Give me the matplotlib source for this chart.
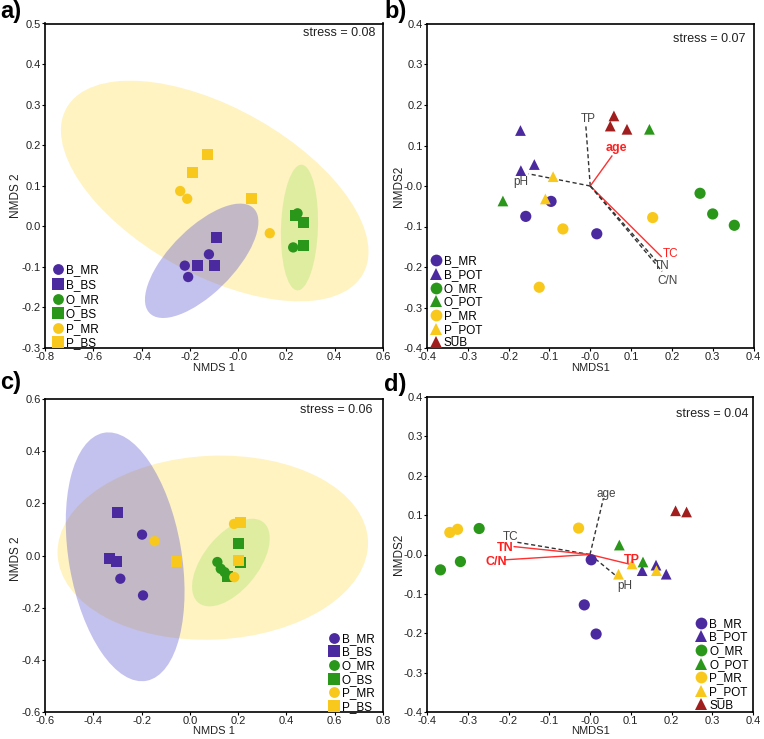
import matplotlib
matplotlib.use("Agg")
import matplotlib.pyplot as plt
import numpy as np
from matplotlib.patches import Ellipse
from matplotlib.lines import Line2D

plt.rcParams['font.family'] = ['Liberation Sans', 'DejaVu Sans']
plt.rcParams['axes.unicode_minus'] = False

# ---- colours / markers per group ----
PURPLE = '#4b2aa0'
GREEN = '#2a961a'
YELLOW = '#f8c81c'
DARKRED = '#a01e1e'
group_color = {'B': PURPLE, 'O': GREEN, 'P': YELLOW, 'S': DARKRED}
group_marker = {'MR': 'o', 'BS': 's', 'POT': '^', 'SUB': '^'}

# ---- panel a: NMDS of groups (x list, y list) ----
a_groups = ['B_MR', 'B_BS', 'O_MR', 'O_BS', 'P_MR', 'P_BS']
a_pts = {
    'B_MR': ([-0.221, -0.207, -0.121], [-0.097, -0.125, -0.069]),
    'B_BS': ([-0.170, -0.097, -0.090], [-0.097, -0.097, -0.027]),
    'O_MR': ([0.246, 0.228], [0.032, -0.052]),
    'O_BS': ([0.239, 0.272, 0.269], [0.026, 0.009, -0.047]),
    'P_MR': ([-0.240, -0.211, 0.131], [0.087, 0.068, -0.017]),
    'P_BS': ([-0.127, -0.188, 0.055], [0.176, 0.133, 0.068]),
}
# ellipses: centre x, centre y, sd x, sd y, correlation
a_ell = {
    'P': (-0.097, 0.087, 0.637, 0.272, -0.55),
    'B': (-0.151, -0.085, 0.235, 0.141, 0.68),
    'O': (0.254, -0.003, 0.077, 0.155, 0.10),
}

# ---- panel b ----
b_groups = ['B_MR', 'B_POT', 'O_MR', 'O_POT', 'P_MR', 'P_POT', 'SUB']
b_pts = {
    'B_MR': ([-0.158, -0.096, 0.016], [-0.075, -0.038, -0.118]),
    'B_POT': ([-0.171, -0.170, -0.137], [0.137, 0.038, 0.053]),
    'O_MR': ([0.269, 0.300, 0.353], [-0.018, -0.069, -0.097]),
    'O_POT': ([-0.214, 0.145], [-0.037, 0.140]),
    'P_MR': ([-0.067, 0.153, -0.125], [-0.106, -0.078, -0.250]),
    'P_POT': ([-0.091, -0.110], [0.023, -0.032]),
    'SUB': ([0.058, 0.049, 0.090], [0.173, 0.148, 0.140]),
}
b_vec_names = ['TP', 'age', 'pH', 'TC', 'TN', 'C/N']
b_vec_x = [-0.011, 0.053, -0.151, 0.174, 0.163, 0.176]
b_vec_y = [0.151, 0.074, 0.030, -0.174, -0.186, -0.211]
b_lab_x = [-0.004, 0.064, -0.171, 0.196, 0.176, 0.190]
b_lab_y = [0.165, 0.093, 0.011, -0.168, -0.197, -0.234]
b_signif = [False, True, False, True, False, False]
b_bold = [False, True, False, False, False, False]

# ---- panel c ----
c_groups = a_groups
c_pts = {
    'B_MR': ([-0.198, -0.288, -0.194], [0.080, -0.089, -0.153]),
    'B_BS': ([-0.301, -0.333, -0.304], [0.165, -0.013, -0.024]),
    'O_MR': ([0.114, 0.128, 0.144], [-0.025, -0.051, -0.064]),
    'O_BS': ([0.200, 0.211, 0.155], [0.046, -0.028, -0.079]),
    'P_MR': ([-0.146, 0.183, 0.184], [0.055, 0.121, -0.083]),
    'P_BS': ([-0.057, 0.211, 0.201], [-0.024, 0.127, -0.018]),
}
c_ell = {
    'P': (0.095, 0.030, 0.643, 0.353, 0.05),
    'B': (-0.268, -0.005, 0.246, 0.477, -0.28),
    'O': (0.170, -0.027, 0.161, 0.168, 0.55),
}

# ---- panel d ----
d_groups = b_groups
d_pts = {
    'B_MR': ([0.003, -0.014, 0.015], [-0.0135, -0.128, -0.202]),
    'B_POT': ([0.128, 0.162, 0.187], [-0.041, -0.027, -0.050]),
    'O_MR': ([-0.272, -0.318, -0.367], [0.066, -0.018, -0.039]),
    'O_POT': ([0.072, 0.130], [0.024, -0.019]),
    'P_MR': ([-0.344, -0.325, -0.028], [0.056, 0.064, 0.067]),
    'P_POT': ([0.070, 0.103, 0.163], [-0.050, -0.024, -0.041]),
    'SUB': ([0.210, 0.237], [0.111, 0.108]),
}
d_vec_names = ['age', 'TC', 'TN', 'C/N', 'TP', 'pH']
d_vec_x = [0.033, -0.184, -0.186, -0.209, 0.095, 0.072]
d_vec_y = [0.143, 0.032, 0.020, -0.0135, -0.024, -0.061]
d_lab_x = [0.039, -0.194, -0.209, -0.231, 0.103, 0.085]
d_lab_y = [0.154, 0.044, 0.016, -0.018, -0.014, -0.079]
d_signif = [False, False, True, True, True, False]
d_bold = d_signif

ell_style = {
    'P': dict(fc='#fff3c2', alpha=1.0),
    'B': dict(fc=(84/255, 78/255, 206/255), alpha=0.35),
    'O': dict(fc=(166/255, 228/255, 100/255), alpha=0.35),
}


def style_of(name):
    if name == 'SUB':
        return group_color['S'], group_marker['SUB']
    g, t = name.split('_')
    return group_color[g], group_marker[t]


def add_ellipse(ax, params, fc, alpha):
    cx, cy, sx, sy, r = params
    cov = np.array([[sx * sx, r * sx * sy], [r * sx * sy, sy * sy]])
    vals, vecs = np.linalg.eigh(cov)
    angle = np.degrees(np.arctan2(vecs[1, 1], vecs[0, 1]))
    ax.add_patch(Ellipse((cx, cy), 2 * np.sqrt(vals[1]), 2 * np.sqrt(vals[0]),
                         angle=angle, fc=fc, alpha=alpha, ec='none', zorder=1))


def setup_axes(ax, xlim, ylim, xstep, ystep, xlabel, ylabel, yl_y):
    ax.set_xlim(*xlim)
    ax.set_ylim(*ylim)
    ax.set_xticks(np.round(np.arange(xlim[0], xlim[1] + 1e-9, xstep), 2))
    ax.set_yticks(np.round(np.arange(ylim[0], ylim[1] + 1e-9, ystep), 2))
    ax.xaxis.set_major_formatter(plt.FormatStrFormatter('%.1f'))
    ax.yaxis.set_major_formatter(plt.FormatStrFormatter('%.1f'))
    ax.tick_params(direction='out', length=2.5, width=0.8, labelsize=8,
                   labelcolor='#222222', pad=0.5)
    for s in ax.spines.values():
        s.set_linewidth(1.2)
    ax.set_xlabel(xlabel, fontsize=8, color='#222222', labelpad=0)
    ax.set_ylabel(ylabel, fontsize=8.5, color='#222222')
    ax.yaxis.set_label_coords(-0.068, yl_y)
    ax.xaxis.set_label_coords(0.5, -0.046)


def scatter_groups(ax, groups, pts, s_round, s_square, s_tri):
    handles = []
    for name in groups:
        col, mk = style_of(name)
        s = {'o': s_round, 's': s_square, '^': s_tri}[mk]
        xs, ys = pts[name]
        ax.scatter(xs, ys, s=s, c=col, marker=mk, edgecolors='none', zorder=3)
        handles.append(Line2D([], [], ls='none', marker=mk, color=col,
                              markersize=np.sqrt(s) * 1.05, markeredgewidth=0, label=name))
    return handles


def draw_vectors(ax, names, vx, vy, lx, ly, signif, bold):
    for n, x, y, tx, ty, sg, bd in zip(names, vx, vy, lx, ly, signif, bold):
        if sg:
            ax.plot([0, x], [0, y], color='#ff3030', lw=1.0, zorder=2)
        else:
            ax.plot([0, x], [0, y], color='#333333', lw=1.0, ls=(0, (3, 2)), zorder=2)
        ax.text(tx, ty, n, ha='center', va='center', fontsize=9 if bd else 8.5,
                color='#ff2020' if sg else '#444444',
                fontweight='bold' if bd else 'normal', zorder=4)


def add_legend(ax, handles, loc, anchor, spacing):
    ax.legend(handles=handles, loc=loc, bbox_to_anchor=anchor, frameon=False,
              fontsize=8.5, handletextpad=-0.1, labelspacing=spacing, borderpad=0.2,
              handlelength=1.5)


fig = plt.figure(figsize=(7.64, 7.39), dpi=100)
W, H = 764, 739


def axes_px(left, top, right, bottom):
    return fig.add_axes([left / W, 1 - bottom / H, (right - left) / W, (bottom - top) / H])


ax_a = axes_px(45, 23.5, 383, 348)
ax_b = axes_px(427, 24, 753.5, 348)
ax_c = axes_px(45, 399, 383, 712)
ax_d = axes_px(427, 397, 753, 712)

# panel a
for k in ['P', 'B', 'O']:
    add_ellipse(ax_a, a_ell[k], **ell_style[k])
h = scatter_groups(ax_a, a_groups, a_pts, 55, 62, 50)
setup_axes(ax_a, (-0.8, 0.6), (-0.3, 0.5), 0.2, 0.1, 'NMDS 1', 'NMDS 2', 0.47)
add_legend(ax_a, h, 'lower left', (-0.012, -0.03), 0.22)
ax_a.text(0.976, 0.97, 'stress = 0.08', transform=ax_a.transAxes, ha='right',
          va='center', fontsize=9, color='#222222')

# panel b
h = scatter_groups(ax_b, b_groups, b_pts, 65, 65, 60)
draw_vectors(ax_b, b_vec_names, b_vec_x, b_vec_y, b_lab_x, b_lab_y, b_signif, b_bold)
setup_axes(ax_b, (-0.4, 0.4), (-0.4, 0.4), 0.1, 0.1, 'NMDS1', 'NMDS2', 0.5)
add_legend(ax_b, h, 'lower left', (-0.024, -0.03), 0.14)
ax_b.text(0.976, 0.954, 'stress = 0.07', transform=ax_b.transAxes, ha='right',
          va='center', fontsize=9, color='#222222')

# panel c
for k in ['P', 'B', 'O']:
    add_ellipse(ax_c, c_ell[k], **ell_style[k])
h = scatter_groups(ax_c, c_groups, c_pts, 55, 62, 50)
setup_axes(ax_c, (-0.6, 0.8), (-0.6, 0.6), 0.2, 0.2, 'NMDS 1', 'NMDS 2', 0.49)
add_legend(ax_c, h, 'lower right', (1.003, -0.03), 0.14)
ax_c.text(0.97, 0.965, 'stress = 0.06', transform=ax_c.transAxes, ha='right',
          va='center', fontsize=9, color='#222222')

# panel d
h = scatter_groups(ax_d, d_groups, d_pts, 65, 65, 60)
draw_vectors(ax_d, d_vec_names, d_vec_x, d_vec_y, d_lab_x, d_lab_y, d_signif, d_bold)
setup_axes(ax_d, (-0.4, 0.4), (-0.4, 0.4), 0.1, 0.1, 'NMDS1', 'NMDS2', 0.5)
add_legend(ax_d, h, 'lower right', (1.012, -0.025), 0.14)
ax_d.text(0.985, 0.946, 'stress = 0.04', transform=ax_d.transAxes, ha='right',
          va='center', fontsize=9, color='#222222')

# panel letters
for lab, x, y in [('a)', 0, 18), ('b)', 384, 18), ('c)', 0, 389), ('d)', 384, 391)]:
    fig.text(x / W, 1 - y / H, lab, fontsize=17, fontweight='bold', ha='left',
             va='baseline')

fig.savefig('out.png', dpi=100)
